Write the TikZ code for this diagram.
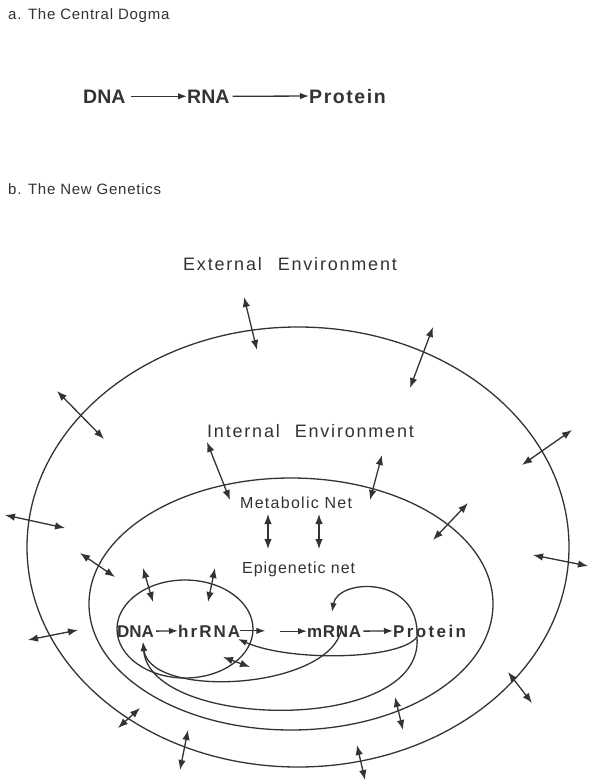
\documentclass[tikz,border=0pt]{standalone}
\usepackage{fontspec}
\setmainfont{Liberation Sans}
\usetikzlibrary{arrows.meta}
\newfontfamily\fA{Liberation Sans}[LetterSpace=5]
\newfontfamily\fB{Liberation Sans}[LetterSpace=10]
\newfontfamily\fC{Liberation Sans}[LetterSpace=6]
\newfontfamily\fQ{Liberation Sans}[LetterSpace=8]
\newfontfamily\fP{Liberation Sans}[LetterSpace=14]
\newfontfamily\fH{Liberation Sans}[LetterSpace=12]
\newfontfamily\fM{Liberation Sans}[LetterSpace=4]
\begin{document}
\begin{tikzpicture}[x=1pt,y=-1pt,
  ink/.style={draw=black!80, line width=1.3pt},
  oneway/.style={ink,-{Latex[length=9pt,width=6.5pt]}},
  twoway/.style={ink,{Latex[length=10pt,width=7.5pt]}-{Latex[length=10pt,width=7.5pt]}},
  word/.style={inner sep=0pt, text=black!80, anchor=base west},
  small/.style={word, font=\fA\fontsize{15}{18}\selectfont},
  envtext/.style={word, font=\fB\fontsize{18}{21}\selectfont},
  bigbold/.style={word, font=\bfseries\fontsize{19.5}{22}\selectfont},
  midbold/.style={word, font=\bfseries\fontsize{17}{20}\selectfont},
]
\useasboundingbox (0,0) rectangle (590,782);
\fill[white] (0,0) rectangle (590,782);

% ---- part a ----
\node[small] (la) at (8,19) {a. The Central Dogma};
\node[bigbold] (d0) at (83,103) {DNA};
\node[bigbold] (r0) at (187,103) {RNA};
\node[bigbold, font=\fQ\bfseries\fontsize{19.5}{22}\selectfont] (p0) at (309,103) {Protein};
\draw[oneway, shorten <=5pt] (d0.east) -- (r0.west);
\draw[oneway, shorten <=3pt] (r0.east) -- (p0.west);

% ---- part b ----
\node[small] (lb) at (8,194) {b. The New Genetics};
\node[envtext] (ext) at (183,270) {External\hspace{16pt}Environment};
\node[envtext] (int) at (207,437) {Internal\hspace{15pt}Environment};
\node[word, font=\fQ\fontsize{16}{19}\selectfont] (met) at (240,508) {Metabolic Net};
\node[word, font=\fC\fontsize{16}{19}\selectfont] (epi) at (242,573) {Epigenetic net};

% ellipses
\draw[ink] (298,547) ellipse [x radius=271pt, y radius=220pt];
\draw[ink] (291,604) ellipse [x radius=202pt, y radius=126pt];
\draw[ink] (185,629) ellipse [x radius=68pt, y radius=49pt];

% main chain
\node[midbold] (d1) at (117,637) {DNA};
\node[midbold, font=\fH\bfseries\fontsize{17}{20}\selectfont] (h1) at (178,637) {hrRNA};
\node[midbold, font=\fM\bfseries\fontsize{17}{20}\selectfont] (m1) at (307,637) {mRNA};
\node[midbold, font=\fP\bfseries\fontsize{17}{20}\selectfont] (p1) at (393,637) {Protein};
\draw[oneway, shorten <=2pt] (d1.east) -- (h1.west);
\draw[oneway] (h1.east) -- ++(25,0) coordinate (gap);
\draw[oneway] ([xshift=-27pt]m1.west) -- (m1.west);
\draw[oneway, shorten <=2pt] (m1.east) -- (p1.west);

% feedback curves
\coordinate (pv) at (417,637);
\coordinate (mv) at (342,626);
\coordinate (dtip) at (143,642);
\coordinate (htip) at (238,639);
\coordinate (mtip) at (332,612);
\draw[oneway] (pv) .. controls (420,575) and (338,578) .. (mtip);
\draw[oneway] (pv) .. controls (400,660) and (290,662) .. (htip);
\draw[oneway] (pv) .. controls (425,735) and (150,730) .. (dtip);
\draw[oneway] (mv) .. controls (335,690) and (150,700) .. (dtip);

% exchanges across the outer boundary
\draw[twoway] (244,297) -- (257,350);
\draw[twoway] (433,327) -- (410,388);
\draw[twoway] (57,391) -- (104,439);
\draw[twoway] (572,430) -- (522,465);
\draw[twoway] (5,515) -- (65,528);
\draw[twoway] (533,555) -- (588,566);
\draw[twoway] (28,640) -- (78,630);
\draw[twoway] (508,672) -- (532,703);
\draw[twoway] (118,728) -- (140,708);
\draw[twoway] (188,730) -- (180,770);
\draw[twoway] (357,745) -- (365,780);
% across the inner boundary
\draw[twoway] (207,442) -- (230,500);
\draw[twoway] (382,455) -- (370,500);
\draw[twoway] (468,503) -- (433,540);
\draw[twoway] (80,553) -- (115,577);
\draw[twoway] (395,697) -- (403,730);
% across the nuclear loop
\draw[twoway] (143,568) -- (153,602);
\draw[twoway] (215,568) -- (208,602);
\draw[twoway] (223,657) -- (250,667);
% metabolic <-> epigenetic
\draw[twoway] (268,514) -- (268,549);
\draw[twoway] (319,514) -- (319,549);
\end{tikzpicture}
\end{document}
